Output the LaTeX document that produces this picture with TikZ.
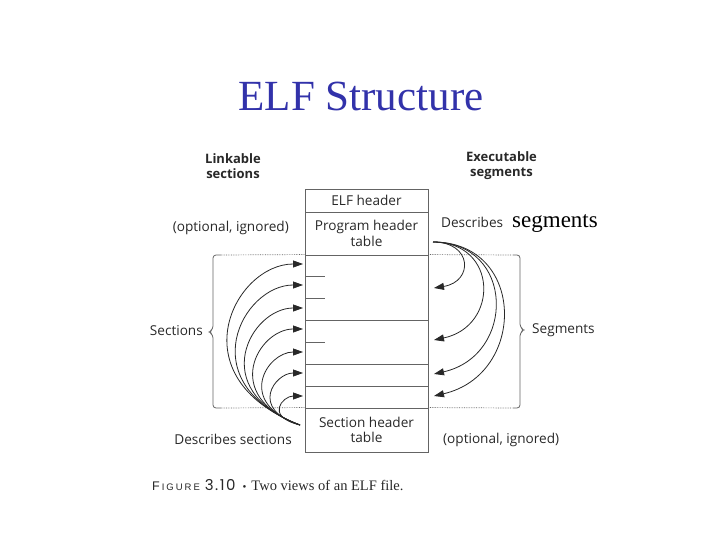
\documentclass[tikz,border=0pt]{standalone}
\usepackage{fontspec}
\setmainfont{Liberation Serif}
\newfontfamily\figsans{Open Sans}
\newfontfamily\capsans{Liberation Sans}
\newfontfamily\numsans{Poppins}
\usetikzlibrary{arrows.meta,calc}
\definecolor{titleblue}{RGB}{50,50,170}
\definecolor{ink}{RGB}{40,40,40}
\definecolor{rulec}{RGB}{100,100,100}
\begin{document}
\begin{tikzpicture}[x=1pt,y=-1pt,
  lbl/.style={font=\figsans\fontsize{13.6}{15}\selectfont, text=ink, inner sep=0pt},
  hd/.style={font=\figsans\bfseries\fontsize{13}{15}\selectfont, text=ink, inner sep=0pt, align=center},
  row/.style={draw=rulec, line width=0.9pt, minimum width=123pt, inner sep=0pt,
    font=\figsans\fontsize{13.6}{15.5}\selectfont, text=ink, align=center},
  rl/.style={draw=rulec, line width=0.9pt},
  arr/.style={draw=ink, line width=0.8pt, -{Triangle[length=10pt,width=7pt]}},
  dots/.style={draw=rulec, densely dotted, line width=0.7pt},
  brk/.style={draw=rulec, line width=0.8pt, rounded corners=3pt}]
\useasboundingbox (0,0) rectangle (720,540);

% title
\node[font=\fontsize{43}{50}\selectfont, text=titleblue, anchor=base, inner sep=0pt] (title) at (361,111) {ELF Structure};

% column of rows
\node[row, minimum height=23pt] (elf)  at (366.5,200.5) {ELF header};
\node[row, minimum height=43pt] (pht)  at (366.5,233.5) {Program header\\table};
\node[row, minimum height=65pt] (mid1) at (366.5,287.5) {};
\node[row, minimum height=44pt] (mid2) at (366.5,342) {};
\node[row, minimum height=22pt] (mid3) at (366.5,375) {};
\node[row, minimum height=22pt] (mid4) at (366.5,397) {};
\node[row, minimum height=44pt] (sht)  at (366.5,430) {Section header\\table};
\draw[rl] (305,276) -- (325,276);
\draw[rl] (305,298) -- (325,298);
\draw[rl] (305,342) -- (325,342);

% brackets and dotted guides
\draw[brk] (221,255) -- (213,255) -- (213,329) -- (209,332) -- (213,335) -- (213,408) -- (221,408);
\draw[dots] (221,255) -- (mid1.north west);
\draw[dots] (221,408) -- (sht.north west);
\draw[brk] (513,255) -- (520,255) -- (520,327) -- (524,330) -- (520,333) -- (520,408) -- (513,408);
\draw[dots] (mid1.north east) -- (513,255);
\draw[dots] (sht.north east) -- (513,408);

% labels
\node[hd, anchor=north] (link) at (233,153) {Linkable\\sections};
\node[hd, anchor=north] (exec) at (501.5,151) {Executable\\segments};
\node[lbl, anchor=base east] (optl) at (289,231) {(optional, ignored)};
\node[lbl, anchor=base west] (desc) at (441,227) {Describes};
\node[font=\fontsize{23}{26}\selectfont, anchor=base west, inner sep=0pt] (segw) at (512,227) {segments};
\node[lbl, anchor=base east] (secs) at (203,335) {Sections};
\node[lbl, anchor=base west] (segs) at (532,333) {Segments};
\node[lbl, anchor=base east] (descs) at (292,444) {Describes sections};
\node[lbl, anchor=base west] (optr) at (443,443) {(optional, ignored)};

% left arrows (section header table describes sections)
\coordinate (lo) at (300,425);
\foreach \yy [count=\i] in {264,285,308,329,352,373,396} {
  \pgfmathsetmacro\hh{425-\yy}
  \pgfmathsetmacro\aa{(0.4*\hh+10)/0.6}
  \coordinate (lt\i) at (303,\yy);
  \draw[arr] (lo) .. controls ($(lo)+(-\aa,-0.3*\hh)$) and ($(lt\i)+(-0.55*\aa,0)$) .. (lt\i);
}

% right arrows (program header table describes segments)
\coordinate (ro) at (433,242);
\foreach \yy [count=\i] in {288,340,374,396} {
  \pgfmathsetmacro\hh{\yy-242}
  \pgfmathsetmacro\ww{0.38*\hh+13}
  \coordinate (rt\i) at (434,\yy);
  \draw[arr] (ro) .. controls ($(ro)+(1.3*\ww,0)$) and ($(rt\i)+(1.3*\ww,-0.14*\hh)$) .. (rt\i);
}

% caption
\node[anchor=base west, inner sep=0pt, text=ink] (cap) at (152,490)
  {{\capsans\fontsize{12.5}{12}\selectfont F\kern2pt\fontsize{9.5}{9}\selectfont I\kern2pt G\kern2pt U\kern2pt R\kern2pt E}\kern5pt{\numsans\fontsize{15}{13}\selectfont 3\kern1.5pt.\kern1.5pt1\kern1.5pt0}\kern7pt{\fontsize{11}{10}\selectfont\textbullet}\kern5pt{\fontsize{14.5}{14}\selectfont Two views of an ELF file.}};
\end{tikzpicture}
\end{document}
